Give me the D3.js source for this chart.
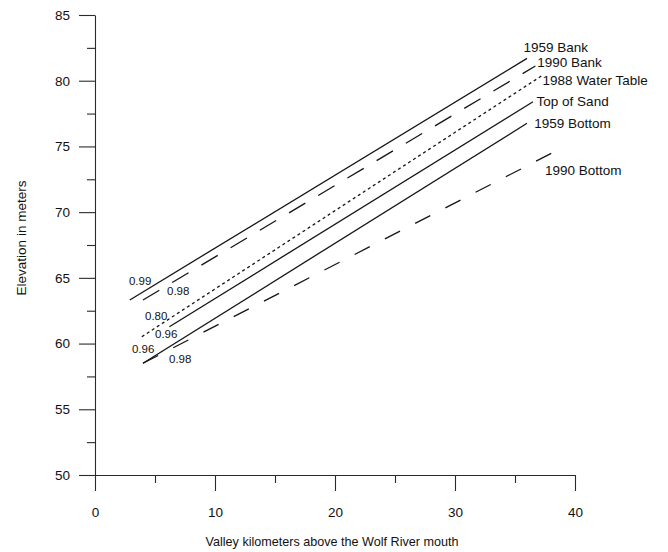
<!DOCTYPE html>
<html>
<head>
<meta charset="utf-8">
<script src="https://cdn.jsdelivr.net/npm/d3@7"></script>
<style>
  html, body { margin: 0; padding: 0; background: #fff; }
  svg { display: block; }
  text { font-family: "Liberation Sans", Arial, sans-serif; fill: #111; }
</style>
</head>
<body>
<svg id="chart" width="668" height="552"></svg>
<script>
// ---- data ----
const seriesNames = ["1959 Bank", "1990 Bank", "1988 Water Table", "Top of Sand", "1959 Bottom", "1990 Bottom"];
const startKm   = [2.9, 4.0, 3.9, 6.2, 4.0, 4.0];
const startElev = [63.32, 63.32, 60.52, 61.28, 58.5, 58.5];
const endKm     = [36.0, 36.7, 37.2, 36.5, 36.0, 39.0];
const endElev   = [81.70, 81.12, 80.36, 78.40, 76.76, 74.93];
const r2Labels  = ["0.99", "0.98", "0.80", "0.96", "0.96", "0.98"];
// r² label anchor positions (km, elevation)
const r2Km   = [2.83, 6.0, 4.17, 5.0, 3.08, 6.17];
const r2Elev = [64.46, 63.70, 61.79, 60.42, 59.28, 58.52];
// series name label anchor positions (km, elevation)
const nameKm   = [35.7, 36.85, 37.3, 36.8, 36.6, 37.5];
const nameElev = [82.18, 81.04, 79.67, 78.08, 76.40, 72.83];

const xMajorTicks = [0, 10, 20, 30, 40];
const xMinorTicks = [5, 15, 25, 35];
const yMajorTicks = [50, 55, 60, 65, 70, 75, 80, 85];
const yMinorTicks = [52.5, 57.5, 62.5, 67.5, 72.5, 77.5, 82.5];

const dashStyles = [null, "19,15", "3,3", null, null, "17,17"];

// ---- chart ----
const svg = d3.select("#chart");
const x = d3.scaleLinear().domain([0, 40]).range([95, 575]);
const y = d3.scaleLinear().domain([50, 85]).range([475, 15]);

const axisColor = "#2a2a2a";

// y axis
const gy = svg.append("g").attr("transform", `translate(${x(0)},0)`)
  .call(d3.axisLeft(y).tickValues(yMajorTicks).tickSize(16).tickSizeOuter(0).tickPadding(9).tickFormat(d3.format("d")));
gy.selectAll("text").style("font-size", "13.5px");
const gy2 = svg.append("g").attr("transform", `translate(${x(0)},0)`)
  .call(d3.axisLeft(y).tickValues(yMinorTicks).tickSize(8).tickSizeOuter(0).tickFormat(""));
gy2.select(".domain").remove();

// x axis
const gx = svg.append("g").attr("transform", `translate(0,${y(50)})`)
  .call(d3.axisBottom(x).tickValues(xMajorTicks).tickSize(16).tickSizeOuter(0).tickPadding(16).tickFormat(d3.format("d")));
gx.selectAll("text").style("font-size", "13.5px");
const gx2 = svg.append("g").attr("transform", `translate(0,${y(50)})`)
  .call(d3.axisBottom(x).tickValues(xMinorTicks).tickSize(8).tickSizeOuter(0).tickFormat(""));
gx2.select(".domain").remove();

svg.selectAll(".domain, .tick line").attr("stroke", axisColor).attr("stroke-width", 1.1);

// axis titles
svg.append("text")
  .attr("transform", `translate(26,238) rotate(-90)`)
  .attr("text-anchor", "middle")
  .style("font-size", "13.5px")
  .text("Elevation in meters");

svg.append("text")
  .attr("x", 332)
  .attr("y", 546)
  .attr("text-anchor", "middle")
  .style("font-size", "12.6px")
  .text("Valley kilometers above the Wolf River mouth");

// lines
const line = d3.line().x(d => x(d[0])).y(d => y(d[1]));
seriesNames.forEach((name, i) => {
  svg.append("path")
    .datum([[startKm[i], startElev[i]], [endKm[i], endElev[i]]])
    .attr("d", line)
    .attr("fill", "none")
    .attr("stroke", "#151515")
    .attr("stroke-width", 1.3)
    .attr("stroke-dasharray", dashStyles[i]);
  svg.append("text")
    .attr("x", x(nameKm[i]))
    .attr("y", y(nameElev[i]))
    .style("font-size", "13.5px")
    .text(name);
  svg.append("text")
    .attr("x", x(r2Km[i]))
    .attr("y", y(r2Elev[i]))
    .style("font-size", "11.5px")
    .text(r2Labels[i]);
});
</script>
</body>
</html>
